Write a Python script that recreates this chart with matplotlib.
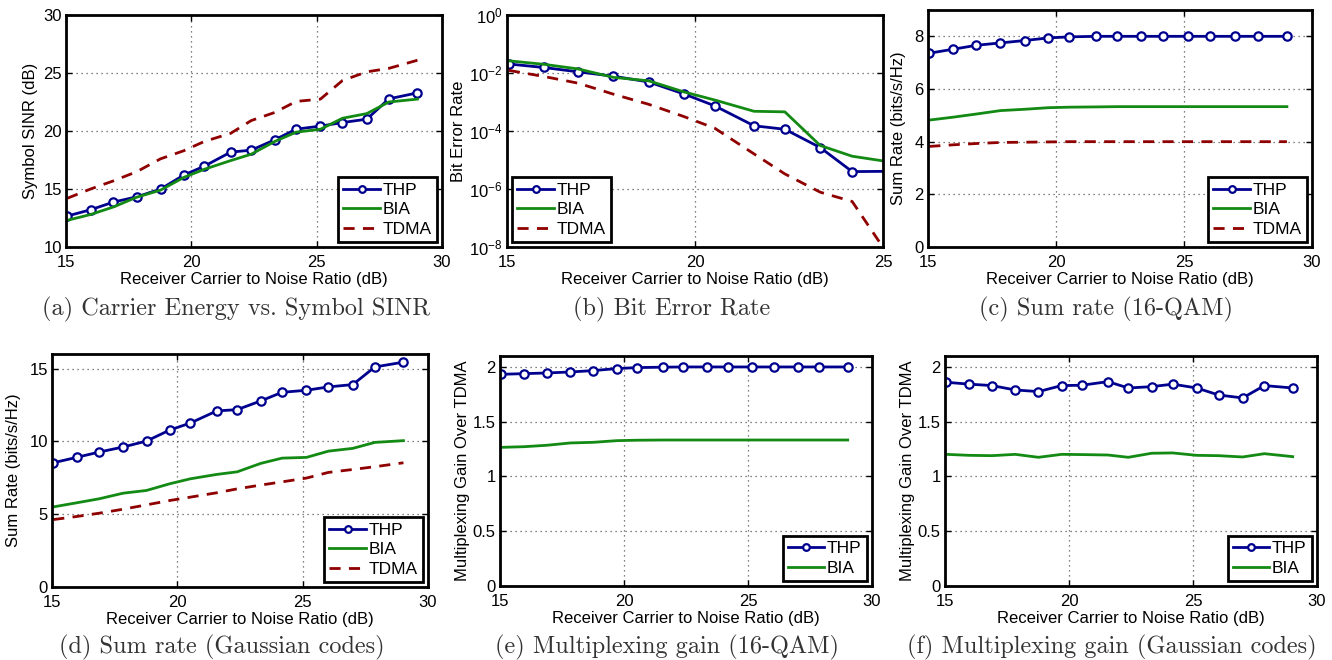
import numpy as np
import matplotlib
matplotlib.use("Agg")
import matplotlib.pyplot as plt
from matplotlib.ticker import FixedLocator, FixedFormatter

plt.rcParams['font.family'] = ['Liberation Sans', 'DejaVu Sans']
plt.rcParams['mathtext.fontset'] = 'custom'
plt.rcParams['mathtext.rm'] = 'Liberation Sans'
plt.rcParams['mathtext.it'] = 'Liberation Sans'

# receiver carrier to noise ratio (dB), measured points
cnr = [15.05, 15.98, 16.89, 17.83, 18.77, 19.70, 20.52, 21.57,
       22.39, 23.33, 24.18, 25.15, 26.03, 27.00, 27.88, 29.02]

# (a) symbol SINR (dB)
sinr_thp = [12.67, 13.21, 13.87, 14.33, 14.99, 16.20, 16.97, 18.18,
            18.35, 19.24, 20.16, 20.42, 20.73, 21.02, 22.77, 23.29]
sinr_bia = [12.30, 12.80, 13.45, 14.30, 14.90, 16.00, 16.70, 17.45,
            18.00, 19.10, 19.90, 20.15, 21.10, 21.50, 22.50, 22.75]
sinr_tdma = [14.20, 15.00, 15.70, 16.50, 17.60, 18.30, 19.10, 19.80,
             20.90, 21.60, 22.55, 22.75, 24.35, 25.10, 25.40, 26.10]

# (b) bit error rate, first 12 points (axis stops at 25 dB)
ber_thp = [10**-1.69, 10**-1.81, 10**-1.96, 10**-2.11, 10**-2.31, 10**-2.72,
           10**-3.13, 10**-3.82, 10**-3.94, 10**-4.57, 10**-5.40, 10**-5.39]
ber_bia = [10**-1.58, 10**-1.70, 10**-1.86, 10**-2.15, 10**-2.27, 10**-2.65,
           10**-2.93, 10**-3.32, 10**-3.34, 10**-4.50, 10**-4.87, 10**-5.06]
ber_tdma = [10**-1.91, 10**-2.12, 10**-2.35, 10**-2.73, 10**-3.08, 10**-3.50,
            10**-3.90, 10**-4.79, 10**-5.48, 10**-6.11, 10**-6.43, 10**-8.30]

# (c) sum rate, 16-QAM (bits/s/Hz)
qam_thp = [7.36, 7.51, 7.66, 7.75, 7.84, 7.94, 7.98, 8.0,
           8.0, 8.0, 8.0, 8.0, 8.0, 8.0, 8.0, 8.0]
qam_bia = [4.82, 4.93, 5.05, 5.18, 5.23, 5.29, 5.31, 5.32,
           5.33, 5.33, 5.33, 5.33, 5.33, 5.33, 5.33, 5.33]
qam_tdma = [3.82, 3.88, 3.93, 3.97, 3.98, 3.99, 4.0, 4.0,
            4.0, 4.0, 4.0, 4.0, 4.0, 4.0, 4.0, 4.0]

# (d) sum rate, Gaussian codes (bits/s/Hz)
gau_thp = [8.53, 8.90, 9.27, 9.61, 10.02, 10.78, 11.26, 12.09,
           12.18, 12.78, 13.37, 13.51, 13.74, 13.90, 15.11, 15.44]
gau_bia = [5.50, 5.78, 6.06, 6.44, 6.63, 7.09, 7.43, 7.73,
           7.91, 8.49, 8.85, 8.90, 9.33, 9.52, 9.93, 10.05]
gau_tdma = [4.63, 4.84, 5.07, 5.34, 5.64, 5.94, 6.17, 6.47,
            6.74, 7.00, 7.22, 7.48, 7.87, 8.07, 8.26, 8.53]

# (e) multiplexing gain over TDMA, 16-QAM
mg_qam_thp = [1.933, 1.939, 1.945, 1.954, 1.967, 1.985, 1.994, 1.998,
              2.0, 2.0, 2.0, 2.0, 2.0, 2.0, 2.0, 2.0]
mg_qam_bia = [1.266, 1.272, 1.285, 1.306, 1.312, 1.327, 1.331, 1.333,
              1.333, 1.333, 1.333, 1.333, 1.333, 1.333, 1.333, 1.333]

# (f) multiplexing gain over TDMA, Gaussian codes
mg_gau_thp = [1.860, 1.843, 1.830, 1.790, 1.775, 1.830, 1.833, 1.866,
              1.808, 1.820, 1.843, 1.808, 1.744, 1.717, 1.830, 1.808]
mg_gau_bia = [1.202, 1.193, 1.190, 1.202, 1.175, 1.202, 1.200, 1.196,
              1.175, 1.212, 1.215, 1.193, 1.190, 1.178, 1.208, 1.181]

captions = ["(a) Carrier Energy vs. Symbol SINR", "(b) Bit Error Rate",
            "(c) Sum rate (16-QAM)", "(d) Sum rate (Gaussian codes)",
            "(e) Multiplexing gain (16-QAM)", "(f) Multiplexing gain (Gaussian codes)"]

C_THP = '#00008f'
C_BIA = '#138a13'
C_TDMA = '#8f0000'

W, H = 1332, 660
fig = plt.figure(figsize=(W / 100, H / 100), dpi=100)


def make_ax(l, r, t, b):
    return fig.add_axes([l / W, 1 - b / H, (r - l) / W, (b - t) / H])


def style(ax, xlim, xticks):
    ax.set_xlim(*xlim)
    ax.set_xticks(xticks)
    ax.tick_params(direction='in', top=True, right=True, length=4, width=1,
                   labelsize=12)
    ax.tick_params(axis='x', pad=6)
    ax.tick_params(axis='y', pad=3)
    ax.grid(True, linestyle=(0, (1, 3)), color='0.35', linewidth=0.9)
    for s in ax.spines.values():
        s.set_linewidth(2)
    ax.set_xlabel("Receiver Carrier to Noise Ratio (dB)", fontsize=12, labelpad=1)


def lines(ax, x, thp, bia, tdma=None):
    ax.plot(x, thp, '-o', color=C_THP, lw=2, ms=6, mfc='white', mew=1.6, label='THP')
    ax.plot(x, bia, '-', color=C_BIA, lw=2, label='BIA')
    if tdma is not None:
        ax.plot(x, tdma, '--', color=C_TDMA, lw=2, dashes=(4, 3), label='TDMA')


def legend(ax, loc):
    lg = ax.legend(loc=loc, fontsize=12.5, frameon=True, fancybox=False, framealpha=1,
                   edgecolor='black', borderpad=0.3, labelspacing=0.25,
                   handlelength=2.1, handletextpad=0.15, borderaxespad=0.3,
                   markerscale=0.8)
    lg.get_frame().set_linewidth(2)


# (a)
ax = make_ax(66, 442, 15, 247)
lines(ax, cnr, sinr_thp, sinr_bia, sinr_tdma)
style(ax, (15, 30), [15, 20, 25, 30])
ax.set_ylim(10, 30)
ax.set_yticks([10, 15, 20, 25, 30])
ax.set_ylabel("Symbol SINR (dB)", fontsize=12, labelpad=4)
legend(ax, 'lower right')

# (b)
ax = make_ax(507, 883, 15, 247)
lines(ax, cnr[:12], ber_thp, ber_bia, ber_tdma)
ax.set_yscale('log')
style(ax, (15, 25), [15, 20, 25])
ax.set_ylim(1e-8, 1)
ax.yaxis.set_major_locator(FixedLocator([1e-8, 1e-6, 1e-4, 1e-2, 1]))
ax.yaxis.set_major_formatter(FixedFormatter([r'$10^{-8}$', r'$10^{-6}$', r'$10^{-4}$',
                                             r'$10^{-2}$', r'$10^{0}$']))
ax.yaxis.set_minor_locator(FixedLocator([]))
ax.set_ylabel("Bit Error Rate", fontsize=12, labelpad=2)
legend(ax, 'lower left')

# (c)
ax = make_ax(928, 1312, 10, 247)
lines(ax, cnr, qam_thp, qam_bia, qam_tdma)
style(ax, (15, 30), [15, 20, 25, 30])
ax.set_ylim(0, 9)
ax.set_yticks([0, 2, 4, 6, 8])
ax.set_ylabel("Sum Rate (bits/s/Hz)", fontsize=12, labelpad=6)
legend(ax, 'lower right')

# (d)
ax = make_ax(52, 428, 354, 587)
lines(ax, cnr, gau_thp, gau_bia, gau_tdma)
style(ax, (15, 30), [15, 20, 25, 30])
ax.set_ylim(0, 16)
ax.set_yticks([0, 5, 10, 15])
ax.set_ylabel("Sum Rate (bits/s/Hz)", fontsize=12, labelpad=6)
legend(ax, 'lower right')

# (e)
ax = make_ax(500, 872, 356, 586)
lines(ax, cnr, mg_qam_thp, mg_qam_bia)
style(ax, (15, 30), [15, 20, 25, 30])
ax.set_ylim(0, 2.1)
ax.set_yticks([0, 0.5, 1, 1.5, 2])
ax.set_yticklabels(['0', '0.5', '1', '1.5', '2'])
ax.set_ylabel("Multiplexing Gain Over TDMA", fontsize=12, labelpad=2)
legend(ax, 'lower right')

# (f)
ax = make_ax(945, 1317, 356, 586)
lines(ax, cnr, mg_gau_thp, mg_gau_bia)
style(ax, (15, 30), [15, 20, 25, 30])
ax.set_ylim(0, 2.1)
ax.set_yticks([0, 0.5, 1, 1.5, 2])
ax.set_yticklabels(['0', '0.5', '1', '1.5', '2'])
ax.set_ylabel("Multiplexing Gain Over TDMA", fontsize=12, labelpad=2)
legend(ax, 'lower right')

# sub-captions
cap_pos = [(236, 309), (672, 309), (1106, 309), (222, 647), (667, 647), (1112, 647)]
for (cx, cy), txt in zip(cap_pos, captions):
    fig.text(cx / W, 1 - cy / H, txt, ha='center', va='center',
             fontfamily=['cmr10', 'DejaVu Serif'], fontsize=17.5, color='#333333')

fig.savefig("out.png", dpi=100)
